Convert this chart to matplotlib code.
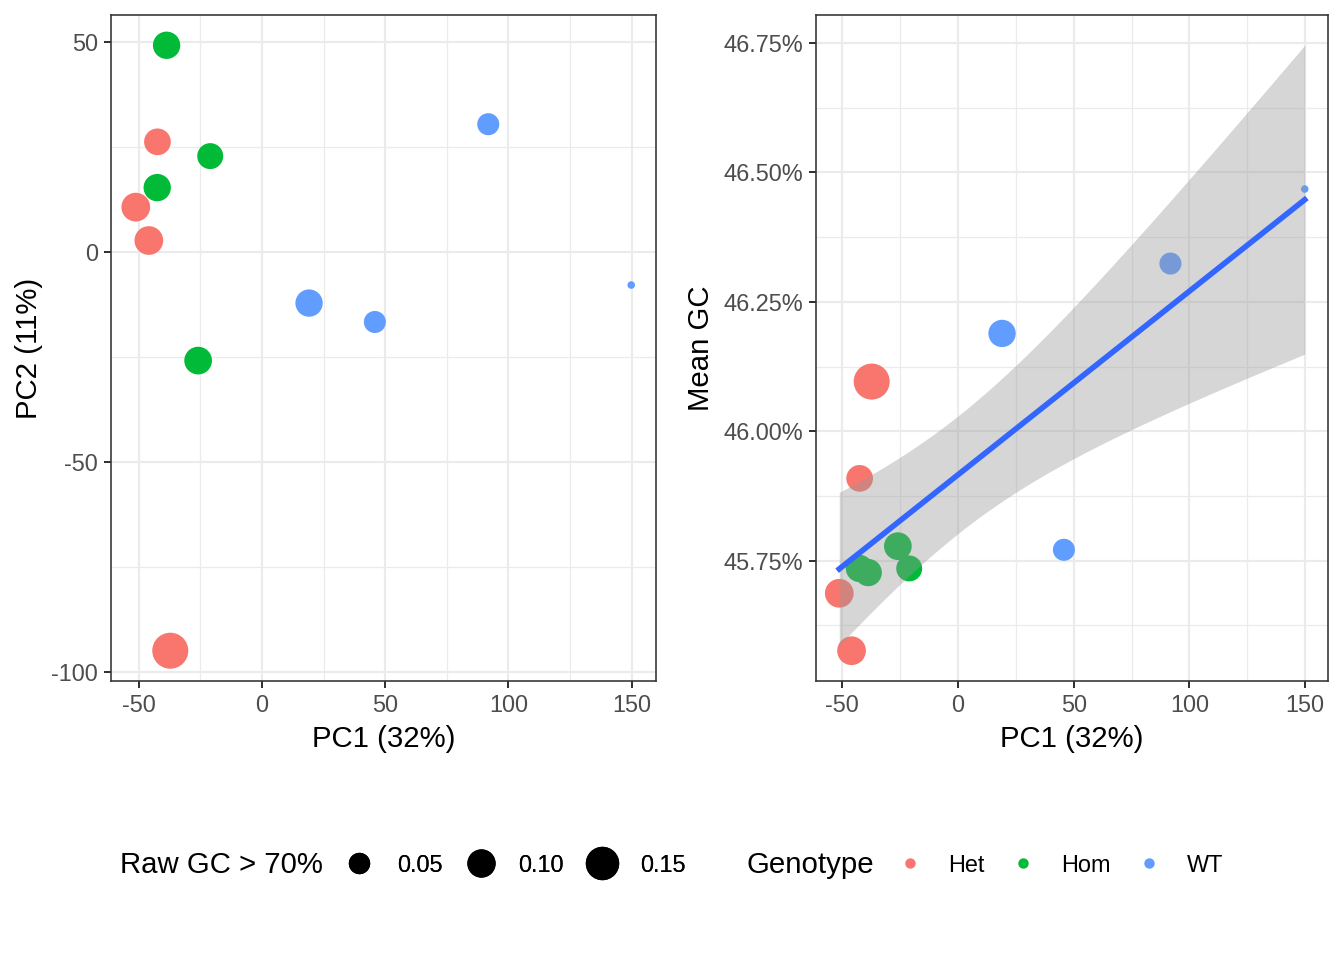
import matplotlib
matplotlib.use('Agg')
import matplotlib.pyplot as plt
from matplotlib.lines import Line2D
from matplotlib.ticker import FixedLocator, FuncFormatter
import numpy as np

plt.rcParams['font.family'] = ['Liberation Sans', 'DejaVu Sans']
plt.rcParams['axes.unicode_minus'] = False

# data
genotype = ['Het', 'Het', 'Het', 'Het', 'Hom', 'Hom', 'Hom', 'Hom', 'WT', 'WT', 'WT', 'WT']
pc1 = [-42.4, -51.2, -45.9, -37.2, -38.7, -21.0, -42.5, -25.9, 91.8, 19.1, 45.8, 149.8]
pc2 = [26.3, 10.75, 2.8, -94.9, 49.3, 22.9, 15.4, -25.8, 30.5, -12.1, -16.6, -7.8]
mean_gc = [45.909, 45.687, 45.576, 46.096, 45.727, 45.735, 45.735, 45.778, 46.324, 46.189, 45.771, 46.468]
raw_gc70 = [0.087, 0.104, 0.104, 0.18, 0.092, 0.081, 0.092, 0.095, 0.054, 0.092, 0.054, 0.01]

geno_levels = ['Het', 'Hom', 'WT']
geno_colors = {'Het': '#F8766D', 'Hom': '#00BA38', 'WT': '#619CFF'}
size_breaks = [0.05, 0.10, 0.15]

DPI = 192
W, H = 1344, 960

vmin, vmax = min(raw_gc70), max(raw_gc70)


def size_pt(v):
    # ggplot-like area scale (range 1..6) -> marker diameter in points
    s = 1 + 5 * np.sqrt(max(v - vmin, 0) / (vmax - vmin))
    return 2.133 * s + 0.709


def style(ax):
    for sp in ax.spines.values():
        sp.set_color('#333333')
        sp.set_linewidth(0.6)
    ax.tick_params(which='major', length=2.75, width=0.75, color='#333333',
                   labelcolor='#4D4D4D', labelsize=8.8, pad=2.2)
    ax.tick_params(which='minor', length=0)
    ax.grid(which='major', color='#EBEBEB', linewidth=0.8)
    ax.grid(which='minor', color='#EBEBEB', linewidth=0.45)
    ax.set_axisbelow(True)


fig = plt.figure(figsize=(W / DPI, H / DPI), dpi=DPI)
ax1 = fig.add_axes([111 / W, 1 - 681 / H, 545 / W, 666 / H])
ax2 = fig.add_axes([816 / W, 1 - 681 / H, 512 / W, 666 / H])

colors = [geno_colors[g] for g in genotype]
sizes = [size_pt(v) ** 2 for v in raw_gc70]

# left panel: PCA
ax1.scatter(pc1, pc2, s=sizes, c=colors, linewidths=0, zorder=2)
ax1.margins(0.05)
ax1.xaxis.set_major_locator(FixedLocator([-50, 0, 50, 100, 150]))
ax1.xaxis.set_minor_locator(FixedLocator([-25, 25, 75, 125]))
ax1.yaxis.set_major_locator(FixedLocator([-100, -50, 0, 50]))
ax1.yaxis.set_minor_locator(FixedLocator([-75, -25, 25]))
ax1.set_xlabel('PC1 (32%)', fontsize=11, labelpad=3)
ax1.set_ylabel('PC2 (11%)', fontsize=11, labelpad=3)
style(ax1)

# right panel: mean GC vs PC1 with linear fit
ax2.scatter(pc1, mean_gc, s=sizes, c=colors, linewidths=0, zorder=2)
x = np.array(pc1)
y = np.array(mean_gc)
b, a = np.polyfit(x, y, 1)
xs = np.linspace(x.min(), x.max(), 80)
yhat = a + b * xs
n = len(x)
resid = y - (a + b * x)
s_err = np.sqrt(np.sum(resid ** 2) / (n - 2))
se = s_err * np.sqrt(1 / n + (xs - x.mean()) ** 2 / np.sum((x - x.mean()) ** 2))
t_crit = 2.228  # t(0.975, df=10)
ax2.fill_between(xs, yhat - t_crit * se, yhat + t_crit * se, color='#999999',
                 alpha=0.4, linewidth=0, zorder=3)
ax2.plot(xs, yhat, color='#3366FF', linewidth=2.1, zorder=4)
ax2.margins(0.05)
ax2.xaxis.set_major_locator(FixedLocator([-50, 0, 50, 100, 150]))
ax2.xaxis.set_minor_locator(FixedLocator([-25, 25, 75, 125]))
ax2.yaxis.set_major_locator(FixedLocator([45.75, 46.0, 46.25, 46.5, 46.75]))
ax2.yaxis.set_minor_locator(FixedLocator([45.625, 45.875, 46.125, 46.375, 46.625]))
ax2.yaxis.set_major_formatter(FuncFormatter(lambda v, _: f'{v:.2f}%'))
ax2.set_xlabel('PC1 (32%)', fontsize=11, labelpad=3)
ax2.set_ylabel('Mean GC', fontsize=11, labelpad=3)
style(ax2)

# legends at the bottom
leg_y = 1 - 865 / H
size_handles = [Line2D([], [], marker='o', linestyle='', color='black',
                       markeredgewidth=0, markersize=size_pt(v)) for v in size_breaks]
leg1 = fig.legend(size_handles, [f'{v:.2f}' for v in size_breaks], ncol=3,
                  loc='center left', bbox_to_anchor=(340 / W, leg_y), frameon=False,
                  fontsize=8.8, borderpad=0, borderaxespad=0, handlelength=1.6,
                  handletextpad=0.82, columnspacing=0.83)
fig.text(120 / W, leg_y, 'Raw GC > 70%', fontsize=11, va='center', ha='left')

geno_handles = [Line2D([], [], marker='o', linestyle='', color=geno_colors[g],
                       markeredgewidth=0, markersize=3.9) for g in geno_levels]
leg2 = fig.legend(geno_handles, geno_levels, ncol=3,
                  loc='center left', bbox_to_anchor=(891 / W, leg_y), frameon=False,
                  fontsize=8.8, borderpad=0, borderaxespad=0, handlelength=1.6,
                  handletextpad=0.82, columnspacing=0.85)
fig.add_artist(leg1)
fig.text(746 / W, leg_y, 'Genotype', fontsize=11, va='center', ha='left')

fig.savefig('out.png', dpi=DPI)
